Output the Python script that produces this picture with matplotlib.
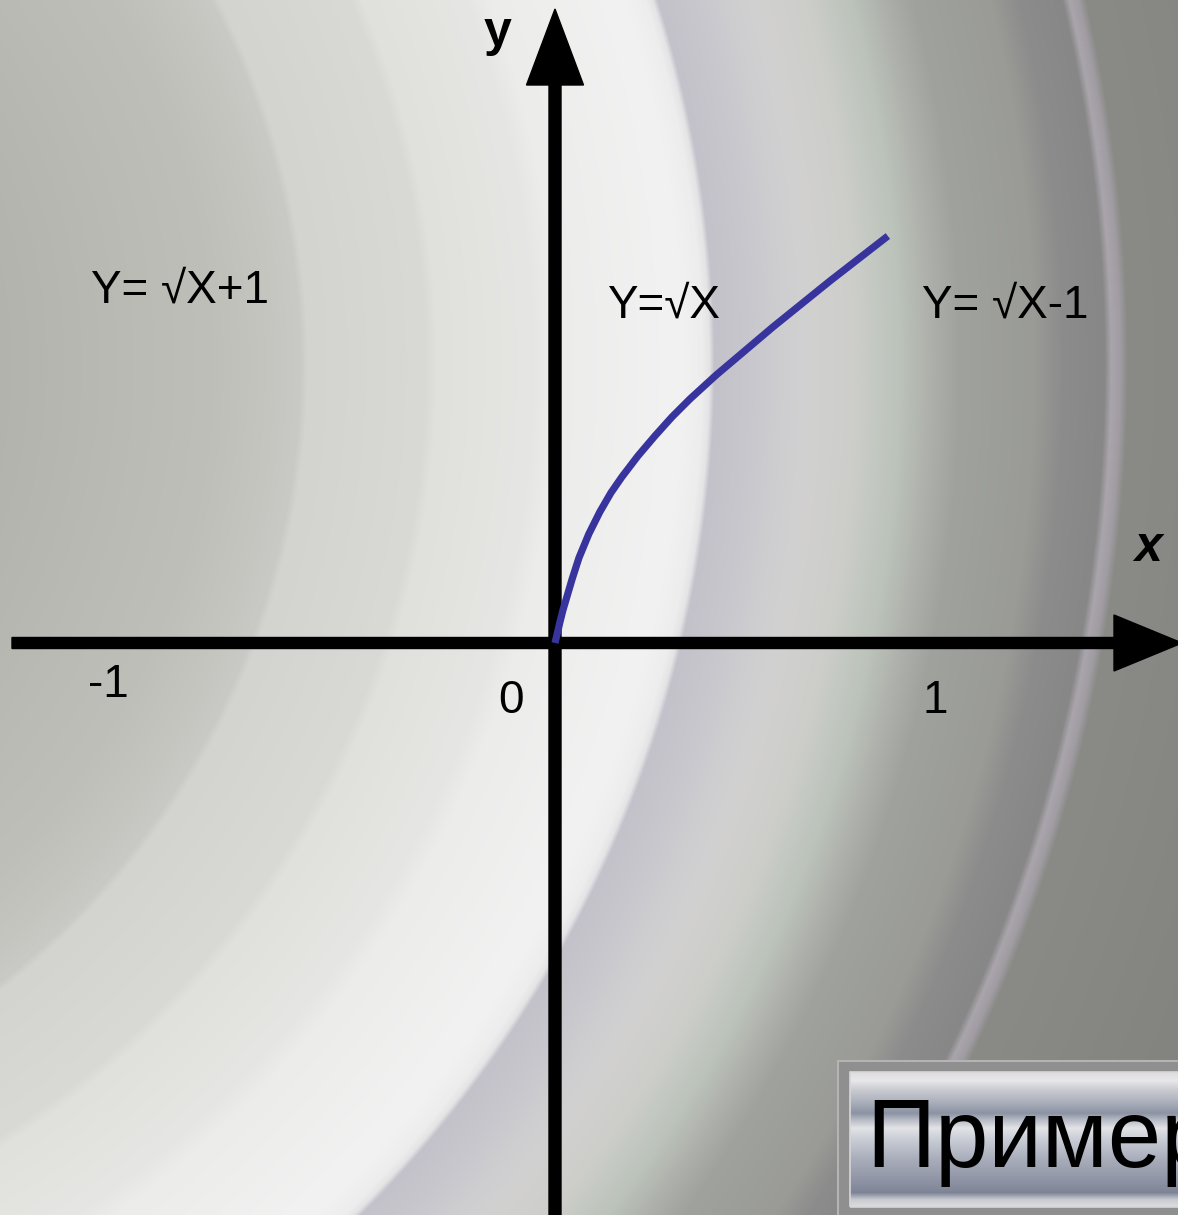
import numpy as np
import matplotlib.pyplot as plt
from matplotlib.patches import Rectangle

W, H = 1178, 1215
U = 380.0            # pixels per unit
X0, Y0 = 555, 643    # where the origin sits on the canvas

# curve (x, y in units)
curve_x = [0.0, 0.013, 0.021, 0.032, 0.045, 0.063, 0.089, 0.118, 0.147, 0.176,
           0.218, 0.263, 0.308, 0.355, 0.424, 0.574, 0.724, 0.876]
curve_y = [0.0, 0.055, 0.087, 0.124, 0.168, 0.224, 0.287, 0.345, 0.395, 0.437,
           0.492, 0.545, 0.595, 0.642, 0.705, 0.832, 0.953, 1.071]

tick_labels = ['-1', '0', '1']
tick_px = [108, 511, 935]

formula_labels = ['Y= \u221aX+1', 'Y=\u221aX', 'Y= \u221aX-1']
formula_px = [(180, 303), (664, 318), (1005, 318)]

FONT = ['Liberation Sans', 'DejaVu Sans']


def ux(px):
    return (px - X0) / U


def uy(py):
    return (Y0 - py) / U


fig = plt.figure(figsize=(W / 100, H / 100), dpi=100)
ax = fig.add_axes([0, 0, 1, 1])
xmin, xmax = ux(0), ux(W)
ymin, ymax = uy(H), uy(0)
ax.set_xlim(xmin, xmax)
ax.set_ylim(ymin, ymax)
ax.axis('off')

# ring background, rings centred off to the left
yy, xx = np.mgrid[0:H, 0:W]
r = np.hypot(xx + 486, yy - 364)
ring = [
    (480, (178, 179, 173)), (620, (186, 187, 181)), (700, (190, 191, 185)),
    (760, (197, 198, 192)), (786, (201, 202, 197)), (793, (211, 212, 207)),
    (912, (217, 218, 213)), (922, (224, 225, 220)), (1020, (230, 231, 228)),
    (1040, (236, 236, 235)), (1165, (242, 242, 242)), (1188, (237, 237, 237)),
    (1195, (228, 228, 230)), (1200, (195, 194, 202)), (1235, (200, 199, 205)),
    (1290, (210, 209, 209)), (1340, (205, 206, 202)), (1385, (187, 195, 186)),
    (1412, (176, 179, 173)), (1445, (160, 162, 157)), (1520, (154, 155, 150)),
    (1548, (140, 140, 140)), (1590, (135, 135, 135)), (1597, (170, 165, 172)),
    (1606, (160, 156, 162)), (1613, (138, 139, 135)), (1800, (131, 132, 127)),
]
rs = np.array([p[0] for p in ring], float)
cols = np.array([p[1] for p in ring], float) / 255
bg = np.stack([np.interp(r, rs, cols[:, k]) for k in range(3)], axis=-1)
ax.imshow(bg, extent=(xmin, xmax, ymin, ymax), origin='upper',
          aspect='auto', interpolation='bilinear', zorder=0)

# axes with arrow heads
ax.arrow(ux(12), 0, ux(1182) - ux(12), 0, width=11 / U, head_width=56 / U,
         head_length=68 / U, length_includes_head=True, fc='black', ec='black', zorder=3)
ax.arrow(0, uy(1230), 0, uy(9) - uy(1230), width=12 / U, head_width=57 / U,
         head_length=76 / U, length_includes_head=True, fc='black', ec='black', zorder=3)

# the root curve
ax.plot(curve_x, curve_y, color='#38349e', lw=5.2, solid_capstyle='butt',
        solid_joinstyle='round', zorder=4)

for lab, px in zip(tick_labels, tick_px):
    py = 697 if lab == '-1' else 713
    ax.text(ux(px), uy(py), lab, fontsize=33, family=FONT, ha='center',
            va='baseline', color='black', zorder=5)

for lab, (px, py) in zip(formula_labels, formula_px):
    ax.text(ux(px), uy(py), lab, fontsize=33, family=FONT, ha='center',
            va='baseline', color='black', zorder=5)

ax.text(ux(497), uy(46), 'y', fontsize=36, family=FONT, weight='bold',
        ha='center', va='baseline', zorder=5)
ax.text(ux(1148), uy(561), 'x', fontsize=36, family=FONT, weight='bold',
        style='italic', ha='center', va='baseline', zorder=5)

# metallic caption box in the lower right corner
ax.add_patch(Rectangle((ux(838), uy(1222)), ux(1190) - ux(838), uy(1061) - uy(1222),
                       fc='#8f8f8f', ec='#b4b4b4', lw=1.5, zorder=5))
stops = [(0, (220, 221, 224)), (8, (232, 232, 234)), (18, (200, 202, 208)),
         (28, (176, 180, 192)), (41, (140, 147, 163)), (48, (184, 188, 198)),
         (56, (226, 227, 230)), (68, (200, 204, 212)), (88, (168, 172, 186)),
         (113, (138, 143, 160)), (121, (126, 132, 150)), (128, (200, 202, 208)),
         (135, (220, 221, 224))]
sy = np.array([s[0] for s in stops], float)
sc = np.array([s[1] for s in stops], float) / 255
rows = np.arange(0, 136)
grad = np.stack([np.interp(rows, sy, sc[:, k]) for k in range(3)], axis=-1)
grad = np.repeat(grad[:, None, :], 2, axis=1)
ax.imshow(grad, extent=(ux(850), ux(1190), uy(1207), uy(1072)), origin='upper',
          aspect='auto', interpolation='bilinear', zorder=6)
ax.add_patch(Rectangle((ux(850), uy(1207)), ux(1190) - ux(850), uy(1072) - uy(1207),
                       fc='none', ec='#d6d6d8', lw=1.2, zorder=7))
ax.text(ux(866), uy(1167), 'Пример', fontsize=69, family=FONT, ha='left',
        va='baseline', color='black', zorder=8)

fig.savefig('out.png', dpi=100)
